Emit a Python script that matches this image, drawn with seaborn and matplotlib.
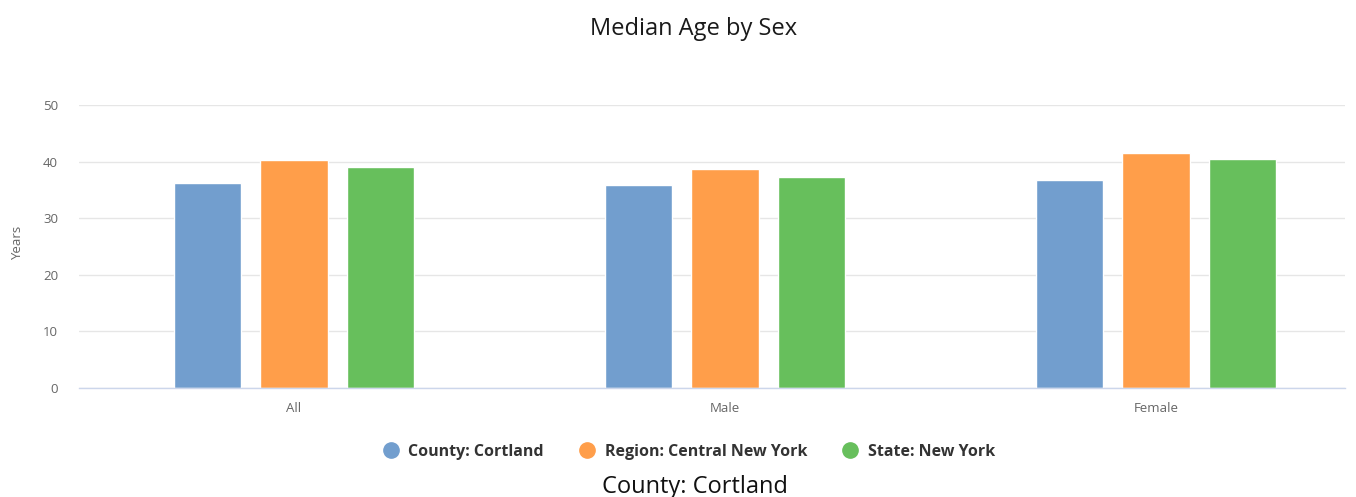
import matplotlib
matplotlib.use("Agg")
import matplotlib.pyplot as plt
from matplotlib.lines import Line2D
import seaborn as sns
import pandas as pd

categories = ["All", "Male", "Female"]
series = ["County: Cortland", "Region: Central New York", "State: New York"]
county = [36.2, 35.9, 36.7]
region = [40.2, 38.7, 41.6]
state = [39.0, 37.3, 40.4]
colors = ["#729ECE", "#FF9E4A", "#67BF5C"]
yticks = [0, 10, 20, 30, 40, 50]

rows = []
for name, vals in zip(series, [county, region, state]):
    for c, v in zip(categories, vals):
        rows.append({"Sex": c, "Series": name, "Years": v})
df = pd.DataFrame(rows)

sns.set_theme(style="white")
plt.rcParams["font.family"] = ["Open Sans", "DejaVu Sans"]

W, H = 1356, 497
fig = plt.figure(figsize=(W / 100, H / 100), dpi=100)
ax = fig.add_axes([79 / W, (H - 388) / H, (1345 - 79) / W, (388 - 105) / H])

sns.barplot(data=df, x="Sex", y="Years", hue="Series", order=categories,
            hue_order=series, palette=colors, width=0.6, gap=0.22,
            saturation=1, ax=ax, legend=False, errorbar=None)

ax.set_ylim(0, 50)
ax.set_xlim(-0.499, 2.4385)
ax.set_yticks(yticks)
ax.set_yticklabels([str(t) for t in yticks])
ax.yaxis.grid(True, color="#e6e6e6", linewidth=1)
ax.set_axisbelow(True)
for s in ["top", "right", "left"]:
    ax.spines[s].set_visible(False)
ax.spines["bottom"].set_color("#ccd6eb")
ax.spines["bottom"].set_linewidth(1)
ax.tick_params(axis="y", length=0, pad=15, labelsize=9.5, labelcolor="#666666")
ax.tick_params(axis="x", length=0, pad=10, labelsize=9.5, labelcolor="#666666")
ax.set_xlabel("")
ax.set_ylabel("")
fig.text(18 / W, 1 - 243 / H, "Years", rotation=90, ha="center", va="center",
         fontsize=9.5, color="#666666")

fig.text(694 / W, 1 - 29 / H, "Median Age by Sex", ha="center", va="center",
         fontsize=17, color="#1a1a1a")

handles = [Line2D([0], [0], marker="o", linestyle="", markersize=11,
                  markerfacecolor=c, markeredgecolor=c) for c in colors]
leg = fig.legend(handles, series, loc="center", bbox_to_anchor=(689 / W, 1 - 452 / H),
                 ncol=3, frameon=False, handlelength=1.0, handletextpad=0.6,
                 columnspacing=2.2, prop={"weight": "bold", "size": 11.5})
for t in leg.get_texts():
    t.set_color("#333333")

fig.text(695 / W, 1 - 487 / H, "County: Cortland", ha="center", va="center",
         fontsize=17, color="#111111")

fig.savefig("out.png", dpi=100)
